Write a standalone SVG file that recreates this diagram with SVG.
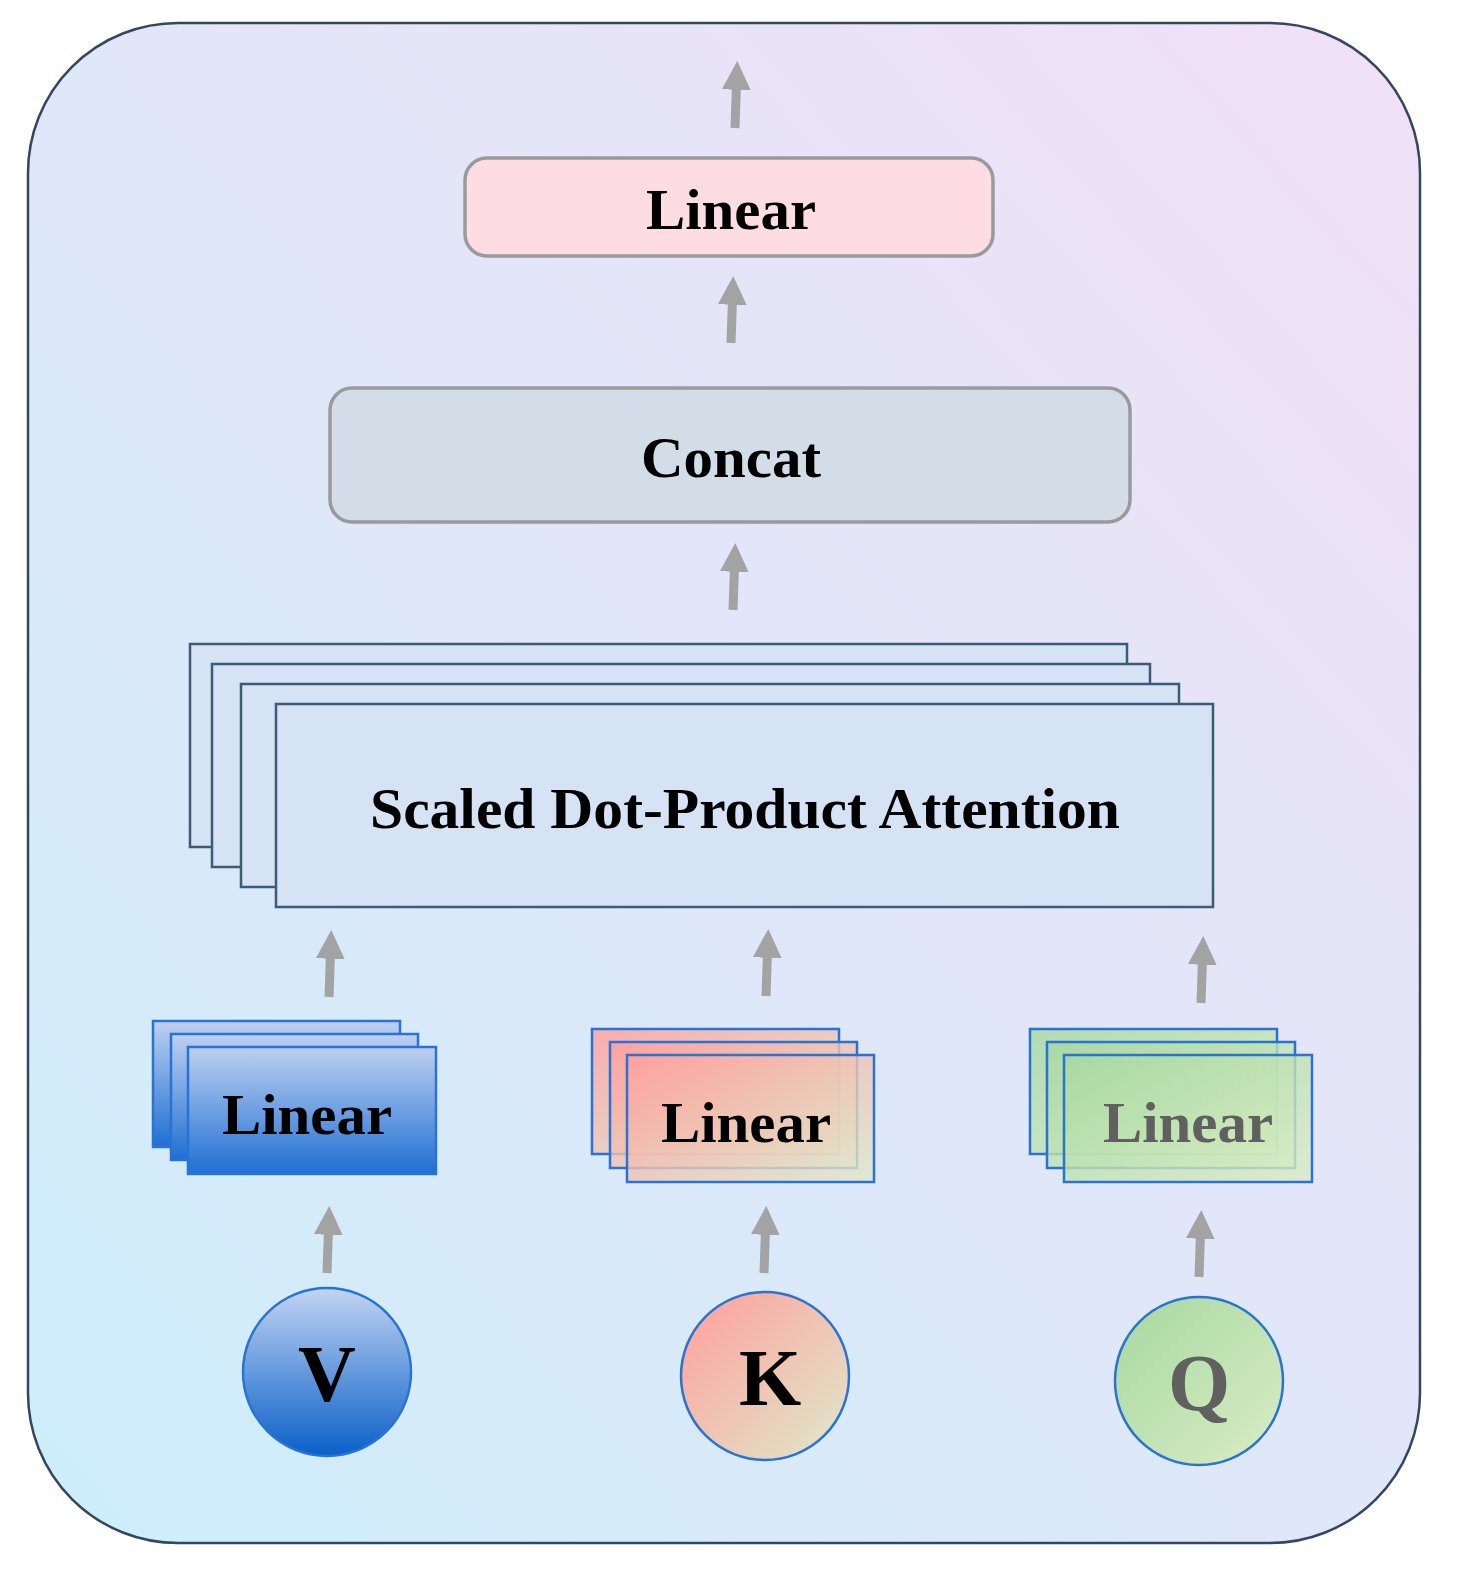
<svg xmlns="http://www.w3.org/2000/svg" width="1460" height="1580" viewBox="0 0 1460 1580">
<defs>
<linearGradient id="bg" x1="0" y1="1" x2="1" y2="0"><stop offset="0" stop-color="#cdeefb"/><stop offset="1" stop-color="#f2e0f6"/></linearGradient>
<linearGradient id="gv" x1="0" y1="0" x2="0" y2="1"><stop offset="0" stop-color="#bed0f0"/><stop offset="1" stop-color="#1f6fd3"/></linearGradient>
<linearGradient id="gc" x1="0" y1="0" x2="0" y2="1"><stop offset="0" stop-color="#c2d4f2"/><stop offset="1" stop-color="#0a5fc8"/></linearGradient>
<linearGradient id="gk" x1="0" y1="0" x2="1" y2="1"><stop offset="0" stop-color="#ff9e9c"/><stop offset="1" stop-color="#dfeacb"/></linearGradient>
<linearGradient id="gq" x1="0" y1="0" x2="1" y2="1"><stop offset="0" stop-color="#a6d8a0"/><stop offset="1" stop-color="#daedc4"/></linearGradient>
<marker id="ah" viewBox="0 0 10 10" refX="2" refY="5" markerWidth="3.2" markerHeight="3.2" orient="auto"><path d="M0,0 L10,5 L0,10 z" fill="#a3a3a3"/></marker>
</defs>
<style>
text{font-family:"Liberation Serif","Times New Roman",serif;font-weight:bold;text-anchor:middle}
.sd{fill:#d6e3f5;stroke:#3d5a78;stroke-width:2.5}
.lv{fill:url(#gv);stroke:#2a72d4;stroke-width:2.5}
.lk{fill:url(#gk);fill-opacity:0.8;stroke:#2a72d4;stroke-width:2.5}
.lq{fill:url(#gq);fill-opacity:0.8;stroke:#2a72d4;stroke-width:2.5}
.ar{stroke:#a3a3a3;stroke-width:9;fill:none;marker-end:url(#ah)}
</style>
<rect x="28" y="23" width="1392" height="1520" rx="150" fill="url(#bg)" stroke="#34475e" stroke-width="2.5"/>
<g id="connectors">
<line class="ar" x1="735" y1="128" x2="736.5" y2="84"/>
<line class="ar" x1="731" y1="343" x2="732.5" y2="299"/>
<line class="ar" x1="733" y1="610" x2="734.5" y2="566"/>
<line class="ar" x1="329" y1="997" x2="330.5" y2="953"/>
<line class="ar" x1="766" y1="996" x2="767.5" y2="952"/>
<line class="ar" x1="1201" y1="1003" x2="1202.5" y2="959"/>
<line class="ar" x1="327" y1="1273" x2="328.5" y2="1229"/>
<line class="ar" x1="764" y1="1273" x2="765.5" y2="1229"/>
<line class="ar" x1="1199" y1="1277" x2="1200.5" y2="1233"/>
</g>
<g id="linear-top">
<rect x="465" y="158" width="528" height="98" rx="22" fill="#fddde3" stroke="#9a9a9a" stroke-width="3.5"/>
<text x="731" y="229" font-size="56" textLength="170" lengthAdjust="spacingAndGlyphs">Linear</text>
</g>
<g id="concat">
<rect x="330" y="388" width="800" height="134" rx="22" fill="#d3dde7" stroke="#9a9a9a" stroke-width="3.5"/>
<text x="731" y="477" font-size="56" textLength="180" lengthAdjust="spacingAndGlyphs">Concat</text>
</g>
<g id="attention">
<rect class="sd" x="190" y="644" width="937" height="203"/>
<rect class="sd" x="212" y="664" width="938" height="203"/>
<rect class="sd" x="241" y="684" width="938" height="203"/>
<rect class="sd" x="276" y="704" width="937" height="203"/>
<text x="745" y="828" font-size="56" textLength="750" lengthAdjust="spacingAndGlyphs">Scaled Dot-Product Attention</text>
</g>
<g id="linear-v">
<rect class="lv" x="153" y="1021" width="247" height="126"/>
<rect class="lv" x="171" y="1034" width="247" height="126"/>
<rect class="lv" x="188" y="1047" width="248" height="127"/>
<text x="307" y="1134" font-size="58" textLength="170" lengthAdjust="spacingAndGlyphs">Linear</text>
</g>
<g id="linear-k">
<rect class="lk" x="592" y="1029" width="247" height="125"/>
<rect class="lk" x="610" y="1042" width="247" height="126"/>
<rect class="lk" x="627" y="1055" width="247" height="127"/>
<text x="746" y="1142" font-size="58" textLength="170" lengthAdjust="spacingAndGlyphs">Linear</text>
</g>
<g id="linear-q">
<rect class="lq" x="1030" y="1029" width="247" height="125"/>
<rect class="lq" x="1047" y="1042" width="248" height="126"/>
<rect class="lq" x="1064" y="1055" width="248" height="127"/>
<text x="1188" y="1142" font-size="58" fill="#606060" textLength="170" lengthAdjust="spacingAndGlyphs">Linear</text>
</g>
<g id="v"><circle cx="327" cy="1372" r="84" fill="url(#gc)" stroke="#2a72d4" stroke-width="2.5"/><text x="327" y="1401" font-size="80">V</text></g>
<g id="k"><circle cx="765" cy="1376" r="84" fill="url(#gk)" stroke="#2a72d4" stroke-width="2.5"/><text x="770" y="1405" font-size="80">K</text></g>
<g id="q"><circle cx="1199" cy="1381" r="84" fill="url(#gq)" stroke="#2a72d4" stroke-width="2.5"/><text x="1199" y="1410" font-size="80" fill="#606060">Q</text></g>
</svg>
